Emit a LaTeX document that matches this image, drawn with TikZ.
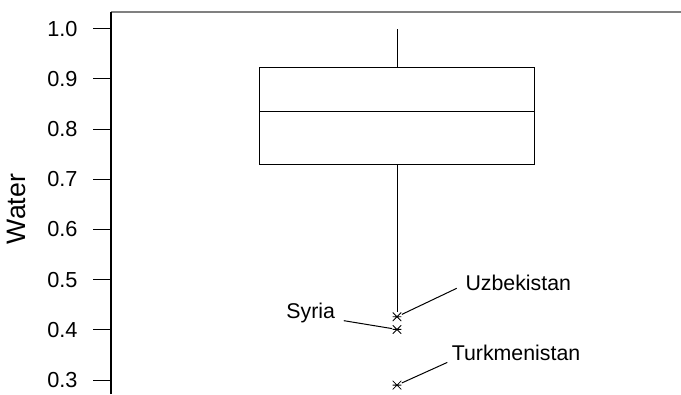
\documentclass[tikz,border=0pt]{standalone}
\usepackage{fontspec}
\setmainfont{Liberation Sans}
\usetikzlibrary{positioning}
\tikzset{
    outl/.style={inner sep=0pt, minimum size=6.5pt, path picture={
        \draw[line width=0.65pt] (path picture bounding box.west) -- (path picture bounding box.east)
        (path picture bounding box.north west) -- (path picture bounding box.south east)
        (path picture bounding box.south west) -- (path picture bounding box.north east);}},
    ctry/.style={inner sep=0pt, font=\fontsize{16}{19}\selectfont},
    tcklbl/.style={inner sep=0pt, anchor=east, font=\fontsize{16.3}{19}\selectfont},
    leader/.style={line width=0.75pt}
}

\begin{document}
\begin{tikzpicture}[x=0.75pt, y=376.5pt, line width=0.75pt]
	\useasboundingbox (0,0.27231) rectangle (681,1.05717);
	% frame
	\draw[gray, line width=1.2pt] (111,1.03386) -- (681,1.03386);
	\draw[line width=0.8pt] (111,0.27231) -- (111,1.03386);
	\foreach \t [count=\i] in {0.3,0.4,0.5,0.6,0.7,0.8,0.9,1.0} {
		\draw[line width=0.8pt] (93,\t) -- (111,\t);
		\node[tcklbl] (tl\i) at (78,\t) {\t};
	}
	\node[rotate=90, inner sep=0pt, font=\fontsize{20}{23}\selectfont] (ylab) at (16,0.6408) {Water};

	% box and whiskers
	\draw (259,0.729) rectangle (534.3,0.9223);
	\draw (259,0.836) -- (534.3,0.836);
	\draw (397,0.9223) -- (397,1.0);

	% outliers
	\node[outl] (uzbo) at (397,0.4263) {};
	\node[outl] (syro) at (397,0.401) {};
	\node[outl] (tkmo) at (397,0.29) {};
	\draw (397,0.729) -- (uzbo.north);

	\node[ctry, anchor=base west] (uzb) at (465,0.4781) {Uzbekistan};
	\node[ctry, anchor=base east] (syr) at (335.5,0.4237) {Syria};
	\node[ctry, anchor=base west] (tkm) at (451.3,0.3395) {Turkmenistan};
	\draw[leader] (uzbo) -- ([xshift=-6.2pt,yshift=1.8pt]uzb.base west);
	\draw[leader] ([xshift=6.2pt,yshift=-2pt]syr.base east) -- (syro);
	\draw[leader] (tkmo) -- ([xshift=-3pt,yshift=-1.6pt]tkm.base west);
\end{tikzpicture}
\end{document}
